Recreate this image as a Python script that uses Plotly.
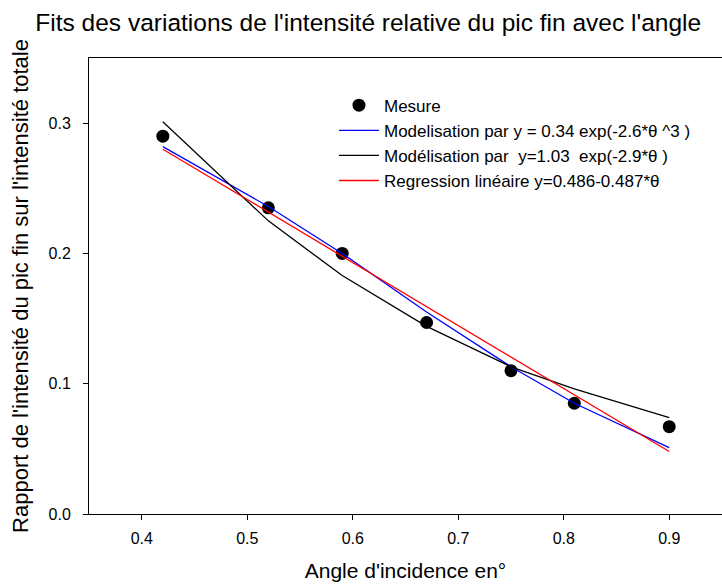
import plotly.graph_objects as go

# Measurement data
theta = [0.42, 0.52, 0.59, 0.67, 0.75, 0.81, 0.90]
mesure = [0.290, 0.235, 0.200, 0.147, 0.110, 0.085, 0.067]

# Fit curves
fit_cubic = [0.282, 0.236, 0.200, 0.155, 0.113, 0.085, 0.051]
fit_exp = [0.301, 0.225, 0.183, 0.144, 0.113, 0.096, 0.074]
lin_x = [0.42, 0.90]
lin_y = [0.280, 0.048]

x_ticks = [0.4, 0.5, 0.6, 0.7, 0.8, 0.9]
y_ticks = [0.0, 0.1, 0.2, 0.3]

names = [
    "Mesure",
    "Modelisation par y = 0.34 exp(-2.6*θ ^3 )",
    "Modélisation par  y=1.03  exp(-2.9*θ )",
    "Regression linéaire y=0.486-0.487*θ",
]

FONT = "Liberation Sans, Arial, sans-serif"

fig = go.Figure()
fig.add_trace(go.Scatter(x=theta, y=mesure, mode="markers", name=names[0],
                         marker=dict(color="black", size=13)))
fig.add_trace(go.Scatter(x=theta, y=fit_cubic, mode="lines", name=names[1],
                         line=dict(color="blue", width=1.3)))
fig.add_trace(go.Scatter(x=theta, y=fit_exp, mode="lines", name=names[2],
                         line=dict(color="black", width=1.3)))
fig.add_trace(go.Scatter(x=lin_x, y=lin_y, mode="lines", name=names[3],
                         line=dict(color="red", width=1.3)))

fig.update_layout(
    width=722, height=588,
    margin=dict(l=89, r=0, t=58, b=74),
    paper_bgcolor="white", plot_bgcolor="white",
    font=dict(family=FONT, size=16, color="black"),
    title=dict(text="Fits des variations de l'intensité relative du pic fin avec l'angle",
               x=0.510, xanchor="center", y=0.9616, yanchor="middle",
               font=dict(size=24.5, family=FONT)),
    showlegend=True,
    legend=dict(x=0.387, y=0.935, xanchor="left", yanchor="top",
                bgcolor="rgba(0,0,0,0)", traceorder="normal",
                itemwidth=40, font=dict(size=17, family=FONT)),
)

fig.update_xaxes(
    range=[0.35, 0.95], tickvals=x_ticks, ticktext=[f"{v:.1f}" for v in x_ticks],
    showgrid=False, zeroline=False, showline=True, linecolor="black", linewidth=1,
    mirror=True, ticks="outside", ticklen=5, tickcolor="black",
    ticklabelstandoff=5, tickfont=dict(size=16),
    title=dict(text="Angle d'incidence en°", font=dict(size=21, family=FONT), standoff=17),
)
fig.update_yaxes(
    range=[0.0, 0.35], tickvals=y_ticks, ticktext=[f"{v:.1f}" for v in y_ticks],
    showgrid=False, zeroline=False, showline=True, linecolor="black", linewidth=1,
    mirror=False, ticks="outside", ticklen=5, tickcolor="black",
    ticklabelstandoff=9, tickfont=dict(size=16),
    title=dict(text="Rapport de l'intensité du pic fin sur l'intensité totale",
               font=dict(size=22, family=FONT), standoff=13),
)

fig.write_html("out.html", config={"displayModeBar": False},
               post_script="document.body.style.margin='0';")
